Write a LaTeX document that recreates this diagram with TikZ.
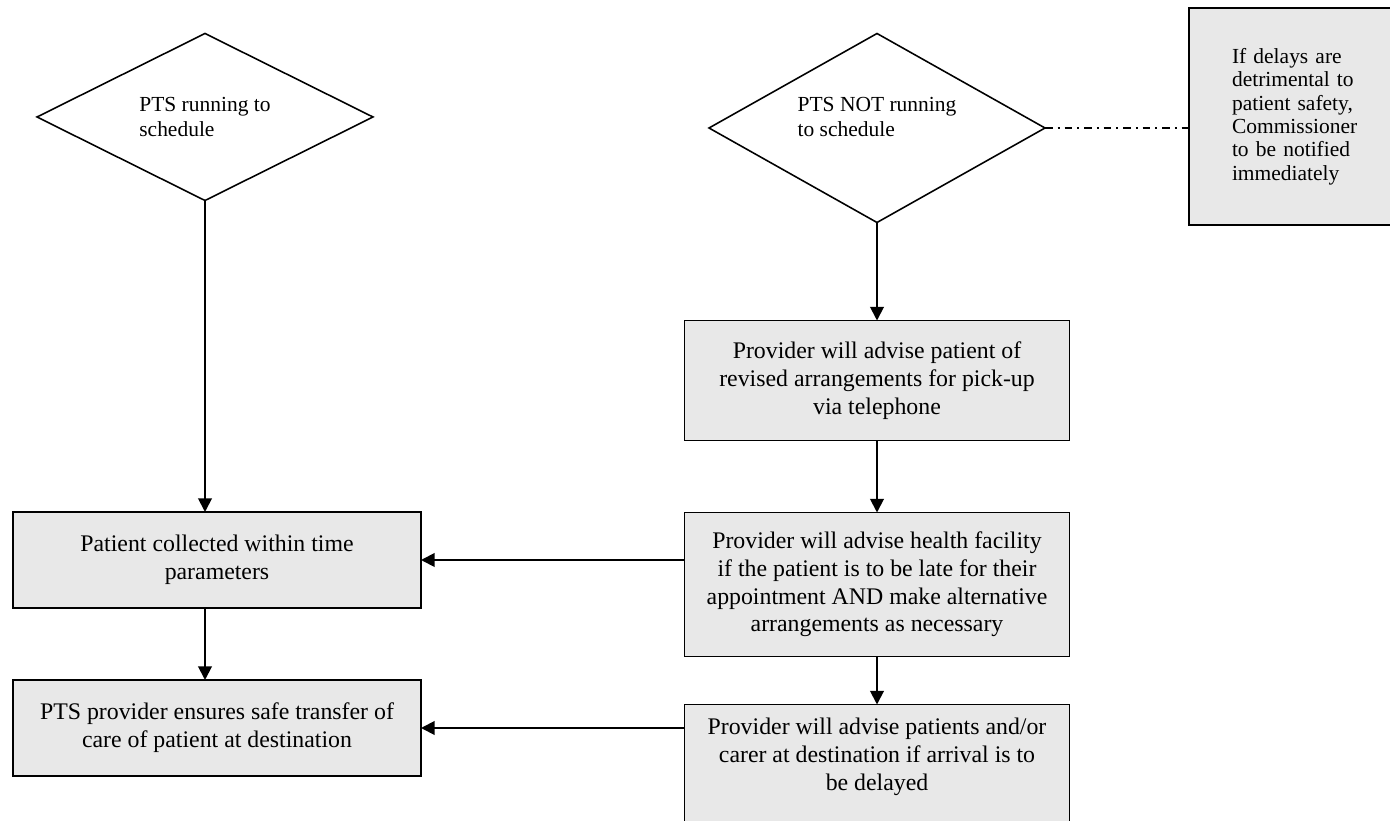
\documentclass[tikz,border=0pt]{standalone}
\usepackage{fontspec}
\setmainfont{Liberation Serif}
\usetikzlibrary{positioning,shapes.geometric,arrows.meta}
\definecolor{boxgray}{RGB}{232,232,232}

\begin{document}
\begin{tikzpicture}[>={Triangle[length=7pt,width=7pt]},line width=0.8pt,
box node/.style={rectangle,draw,fill=boxgray,align=center,outer sep=0pt,minimum width=7.344cm,font=\fontsize{12.2}{14.2}\selectfont},
right box/.style={box node,minimum width=6.93cm},
decision node/.style={diamond,aspect=2,draw,align=left,outer sep=0pt,minimum width=6.048cm,font=\fontsize{11}{12.5}\selectfont},
note node/.style={rectangle,draw,fill=boxgray,align=left,outer sep=0pt,text width=2.9cm,inner xsep=0.774cm,minimum height=3.906cm,font=\fontsize{11}{12}\selectfont},
flow/.style={->,line width=1pt}]
\useasboundingbox (0,0) rectangle (25.02,-14.778);
% nodes
  \node[decision node,minimum height=3.006cm] (run) at (3.69,-2.106) {PTS running to\\schedule};
  \node[decision node,minimum height=3.402cm,text depth=11.5pt] (late) at (15.786,-2.304) {PTS NOT running\\to schedule};
  \node[note node,anchor=north west] (notify) at (21.402,-0.144) {If delays are\\detrimental to\\patient safety,\\Commissioner\\to be notified\\immediately};
  \node[box node,minimum height=1.728cm] (collect) at (3.906,-10.08) {Patient collected within time\\parameters};
  \node[box node,minimum height=1.728cm] (handover) [below = 1.296cm of collect] {PTS provider ensures safe transfer of\\care of patient at destination};
  \node[right box,minimum height=2.16cm] (phone) [below = 1.764cm of late] {Provider will advise patient of\\revised arrangements for pick-up\\via telephone};
  \node[right box,minimum height=2.592cm] (facility) [below = 1.296cm of phone] {Provider will advise health facility\\if the patient is to be late for their\\appointment AND make alternative\\arrangements as necessary};
  \node[right box,inner ysep=7pt,text depth=45pt] (carer) [below = 0.864cm of facility] {Provider will advise patients and/or\\carer at destination if arrival is to\\be delayed};
  %edges
  \path[flow]
    (run) edge (run |- collect.north)
    (run |- collect.south) edge (run |- handover.north)
    (late) edge (phone)
    (phone) edge (facility)
    (facility) edge (carer)
    (facility.west |- collect) edge (collect)
    (carer.west |- handover) edge (handover);
  \draw[dash pattern=on 4pt off 2.5pt on 1pt off 2.5pt] (late.east) -- (notify.west |- late.east);
\end{tikzpicture}
\end{document}
